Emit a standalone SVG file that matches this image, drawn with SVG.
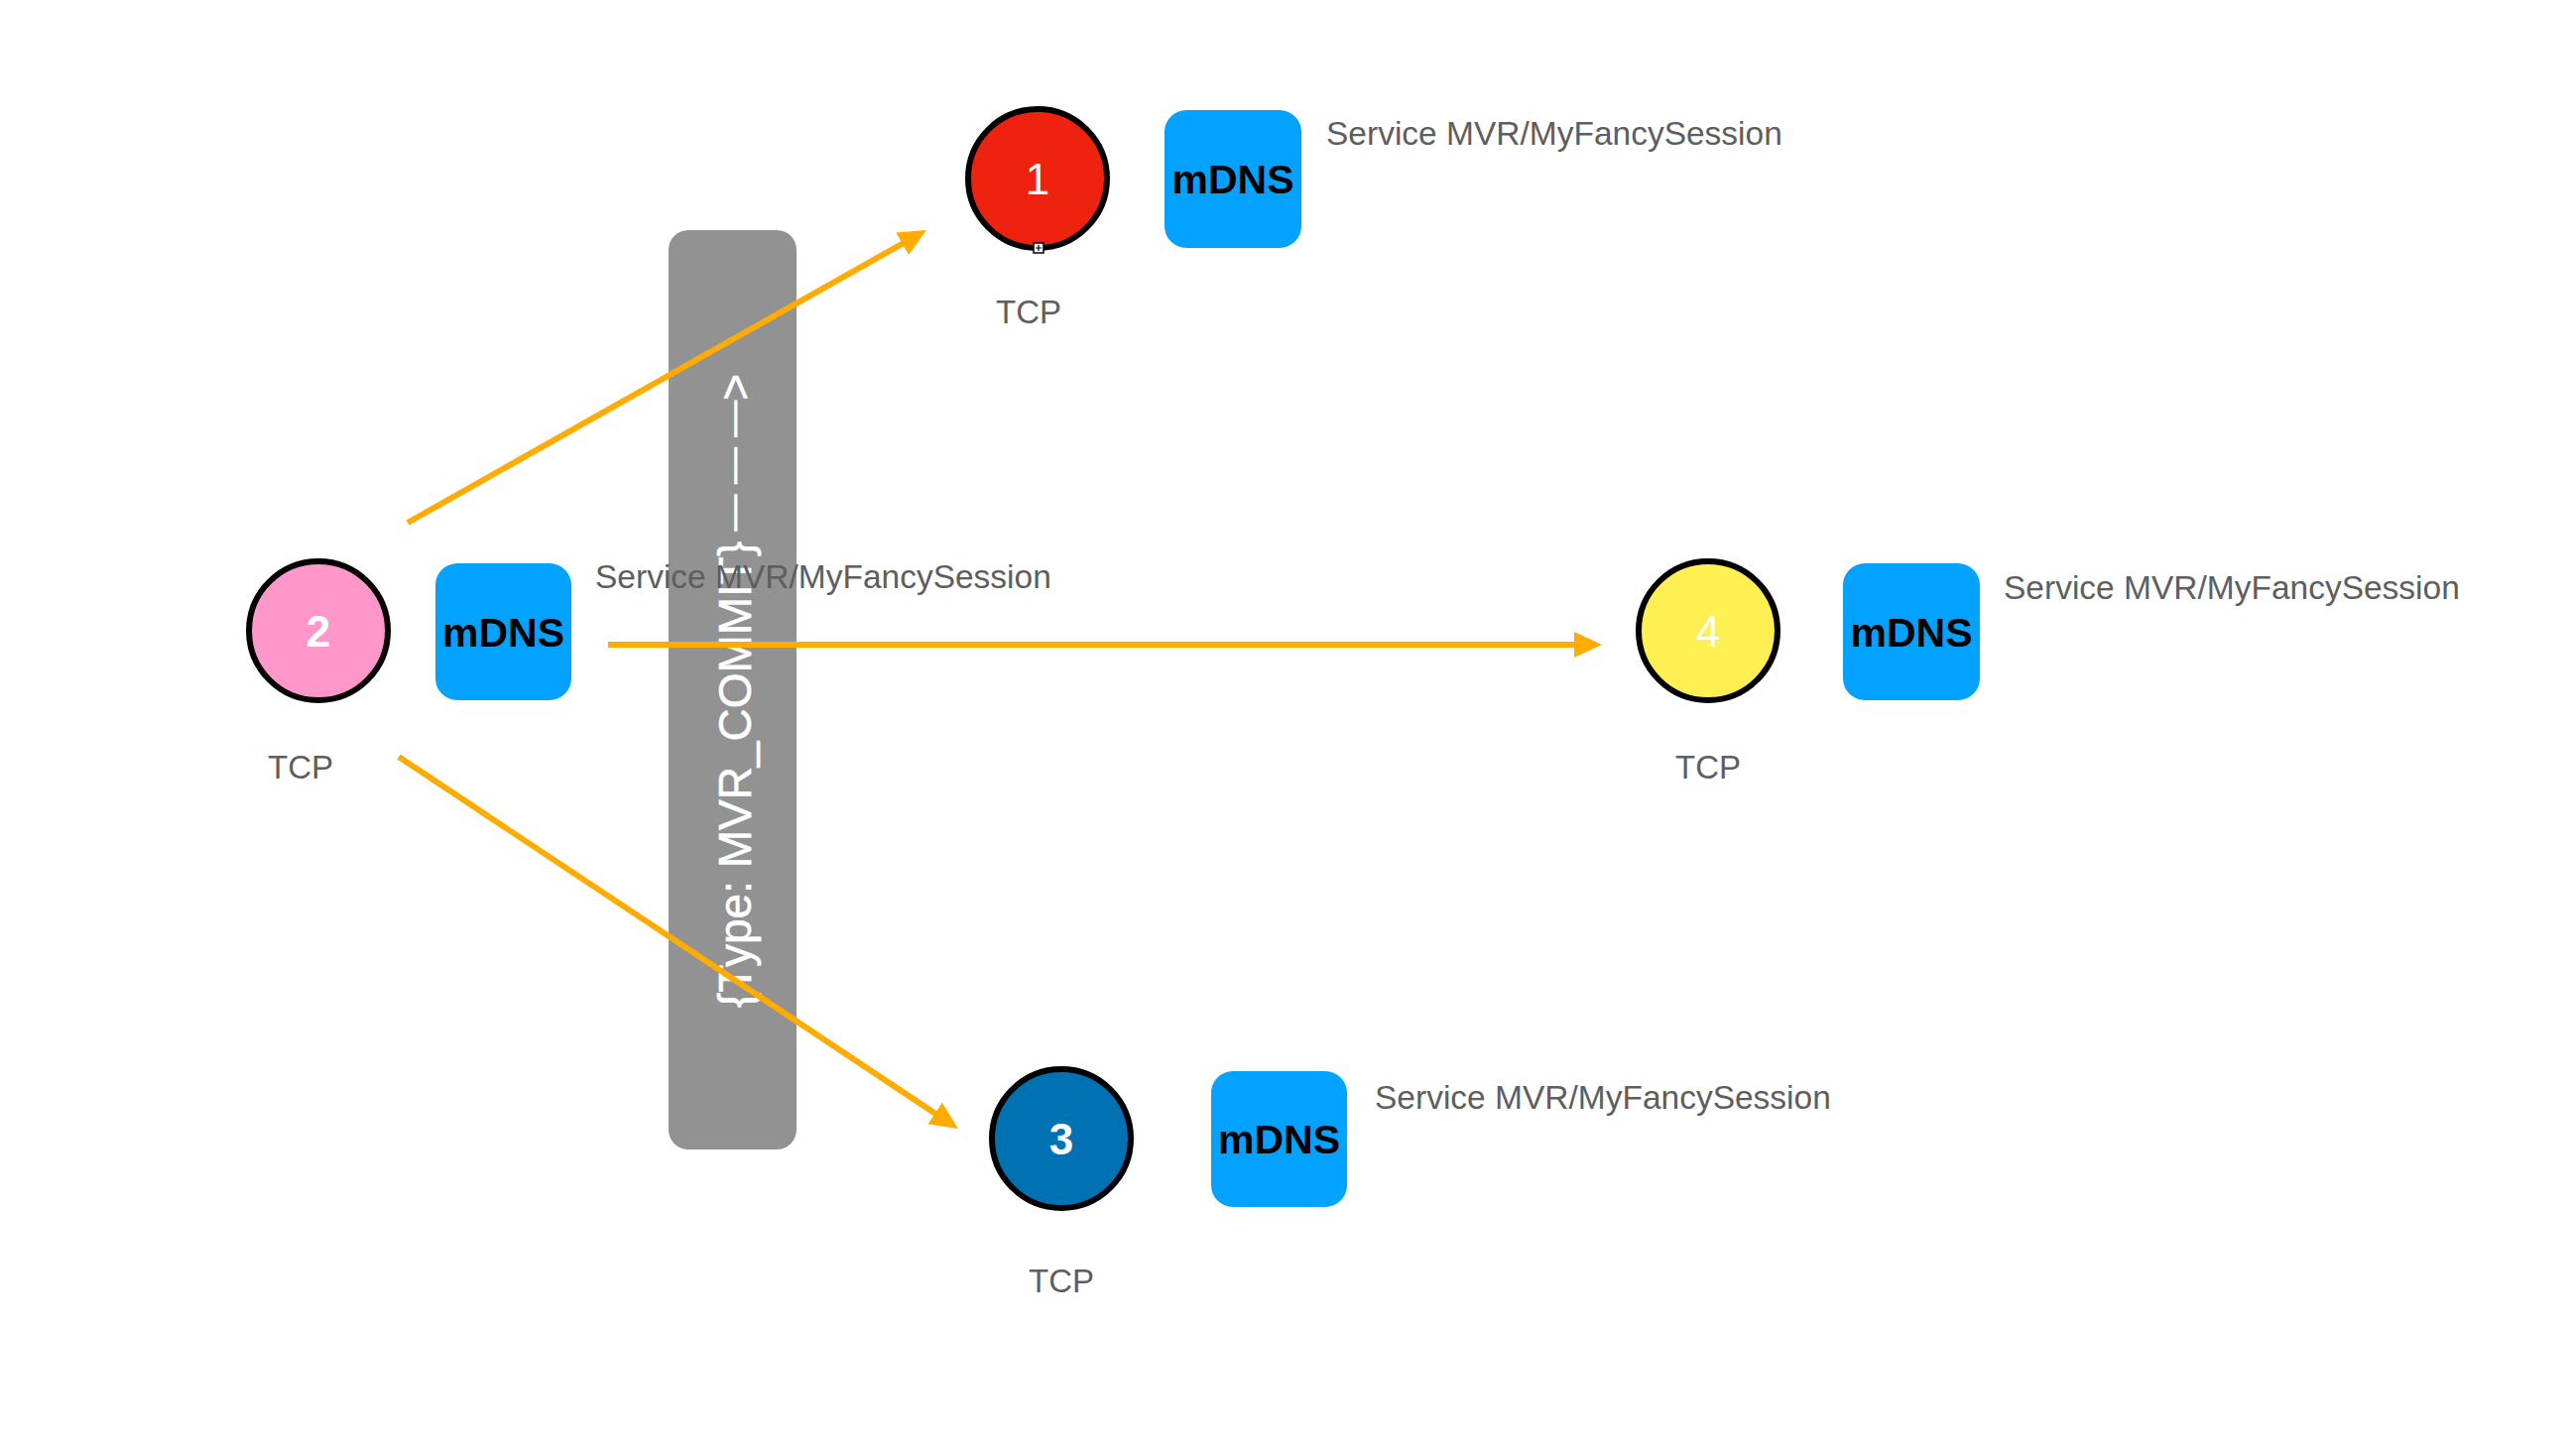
<svg xmlns="http://www.w3.org/2000/svg" width="2597" height="1461" viewBox="0 0 2597 1461">
  <defs>
    <style>
      .peer { stroke: #000; stroke-width: 6; }
      .num { font-family: "Liberation Sans", Arial, Helvetica, sans-serif; font-size: 44px; fill: #fff; text-anchor: middle; }
      .mdns-box { fill: #03A2FE; }
      .mdns { font-family: "Liberation Sans", Arial, Helvetica, sans-serif; font-size: 41px; font-weight: bold; fill: #000; text-anchor: middle; }
      .svc { font-family: "Liberation Sans", Arial, Helvetica, sans-serif; font-size: 33.5px; fill: #5E5E5E; }
      .tcp { font-family: "Liberation Sans", Arial, Helvetica, sans-serif; font-size: 33px; fill: #5E5E5E; text-anchor: middle; }
      .flow { stroke: #FFAB00; stroke-width: 6; fill: none; marker-end: url(#head); }
      .msg { font-family: "Liberation Sans", Arial, Helvetica, sans-serif; font-size: 46px; fill: #fff; stroke: #fff; stroke-width: 0.6; }
    </style>
    <marker id="head" markerUnits="userSpaceOnUse" markerWidth="28" markerHeight="26" refX="8" refY="13" orient="auto" viewBox="0 0 28 26">
      <path d="M0,0 L28,13 L0,26 z" fill="#FFAB00"/>
    </marker>
  </defs>

  <rect width="2597" height="1461" fill="#fff"/>

  <!-- message banner carried by the broadcast -->
  <g id="commit-message">
    <rect x="674" y="232" width="129" height="927" rx="20" ry="20" fill="#929292"/>
    <text class="msg" transform="translate(757,1016) rotate(-90)">{Type: MVR_COMMIT}<tspan font-size="37" dy="-6"> — — —</tspan><tspan dy="6">&gt;</tspan></text>
  </g>

  <!-- broadcast arrows from station 2 -->
  <g id="connectors">
    <line class="flow" x1="411" y1="527" x2="916.6" y2="241.8"/>
    <line class="flow" x1="613" y1="650" x2="1595" y2="650"/>
    <line class="flow" x1="402" y1="763" x2="949.3" y2="1126.9"/>
  </g>

  <g id="node-1">
    <circle class="peer" cx="1046" cy="180" r="70" fill="#EF2210"/>
    <text class="num" x="1046" y="196">1</text>
    <rect x="1042" y="245" width="10" height="10" fill="#fff" stroke="#000" stroke-width="1.5"/>
    <path d="M1047,247 V253 M1044,250 H1050" stroke="#000" stroke-width="1.2"/>
    <rect class="mdns-box" x="1174" y="111" width="138" height="139" rx="22" ry="22"/>
    <text class="mdns" x="1243" y="195">mDNS</text>
    <text class="svc" x="1337" y="146">Service MVR/MyFancySession</text>
    <text class="tcp" x="1037" y="326">TCP</text>
  </g>

  <g id="node-2">
    <circle class="peer" cx="321" cy="636" r="70" fill="#FF97CA"/>
    <text class="num" x="321" y="652" font-weight="bold">2</text>
    <rect class="mdns-box" x="439" y="568" width="137" height="138" rx="22" ry="22"/>
    <text class="mdns" x="507.5" y="652">mDNS</text>
    <text class="svc" x="600" y="593">Service MVR/MyFancySession</text>
    <text class="tcp" x="303" y="785">TCP</text>
  </g>

  <g id="node-4">
    <circle class="peer" cx="1722" cy="636" r="70" fill="#FEF052"/>
    <text class="num" x="1722" y="652">4</text>
    <rect class="mdns-box" x="1858" y="568" width="138" height="138" rx="22" ry="22"/>
    <text class="mdns" x="1927" y="652">mDNS</text>
    <text class="svc" x="2020" y="604">Service MVR/MyFancySession</text>
    <text class="tcp" x="1722" y="785">TCP</text>
  </g>

  <g id="node-3">
    <circle class="peer" cx="1070" cy="1148" r="70" fill="#0071B3"/>
    <text class="num" x="1070" y="1164" font-weight="bold">3</text>
    <rect class="mdns-box" x="1221" y="1080" width="137" height="137" rx="22" ry="22"/>
    <text class="mdns" x="1289.5" y="1163">mDNS</text>
    <text class="svc" x="1386" y="1118">Service MVR/MyFancySession</text>
    <text class="tcp" x="1070" y="1303">TCP</text>
  </g>
</svg>
